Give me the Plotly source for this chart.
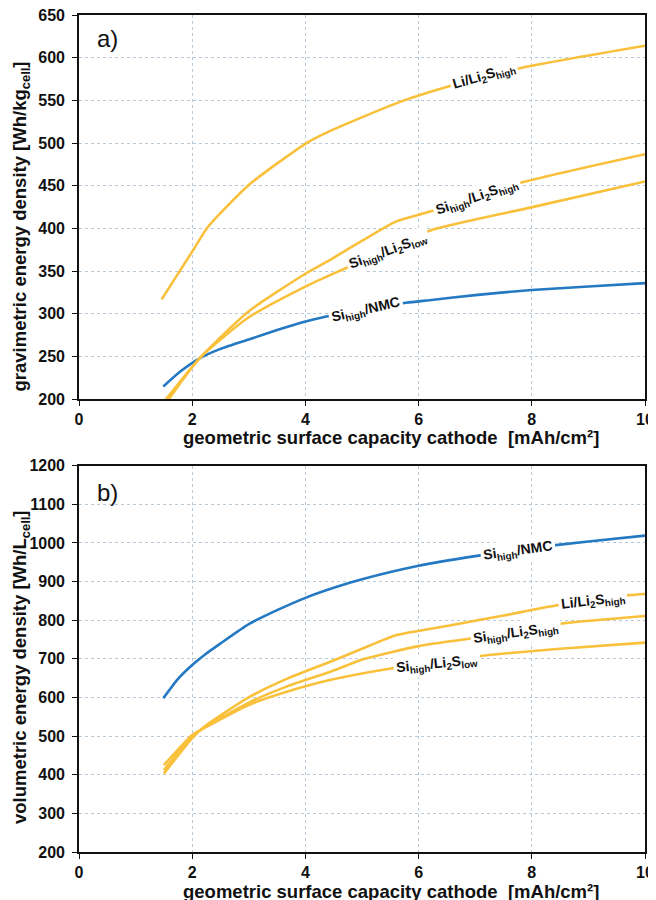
import plotly.graph_objects as go

# ---------------- data ----------------
x_ticks = [0, 2, 4, 6, 8, 10]

# a) gravimetric energy density [Wh/kg_cell]
grav_li_x = [1.46, 2.02, 2.28, 3.02, 4.02, 4.43, 5.66, 6.51, 7.81, 10.0]
grav_li_y = [317, 375, 402, 452, 500, 514, 548, 566, 588, 614]

grav_sih_x = [1.5, 2.13, 3.0, 4.0, 4.43, 5.01, 5.6, 6.19, 7.87, 10.0]
grav_sih_y = [197, 248, 303, 347, 363, 386, 408, 419.5, 454.6, 487]

grav_sil_x = [1.5, 2.13, 3.0, 4.0, 4.66, 5.44, 6.22, 8.01, 10.0]
grav_sil_y = [192, 248, 296, 332, 352, 375, 398, 425, 455]

grav_nmc_x = [1.49, 1.8, 2.13, 2.5, 3.0, 3.5, 4.0, 4.37, 5.0, 5.78, 6.19, 7.0, 8.0, 9.0, 10.0]
grav_nmc_y = [215, 233, 248, 259, 270, 281, 291, 297, 305, 313, 316, 322, 328, 332, 336]

# b) volumetric energy density [Wh/L_cell]
vol_nmc_x = [1.49, 1.75, 2.0, 2.25, 2.5, 3.0, 3.5, 4.0, 4.5, 5.0, 6.0, 7.0, 8.0, 9.0, 10.0]
vol_nmc_y = [598, 648, 684, 714, 740, 790, 826, 858, 884, 906, 941, 966, 987, 1004, 1019]

vol_li_x = [1.5, 2.0, 2.2, 3.02, 3.7, 4.43, 5.0, 5.6, 6.5, 7.5, 8.42, 9.72, 10.0]
vol_li_y = [403, 495, 523, 602, 650, 692, 726, 761, 785, 812, 838, 865, 868]

vol_sih_x = [1.5, 2.0, 2.2, 3.02, 3.7, 4.43, 5.05, 6.0, 6.88, 8.57, 10.0]
vol_sih_y = [412, 500, 521, 588, 630, 666, 700, 733, 752, 792, 811]

vol_sil_x = [1.5, 2.0, 2.2, 3.02, 3.7, 4.43, 5.51, 7.13, 8.5, 10.0]
vol_sil_y = [425, 503, 520, 582, 616, 645, 675, 708, 726, 742]

# curve labels: (text, x, y, angle, panel)
lbl_li = "Li/Li<sub>2</sub>S<sub>high</sub>"
lbl_sih = "Si<sub>high</sub>/Li<sub>2</sub>S<sub>high</sub>"
lbl_sil = "Si<sub>high</sub>/Li<sub>2</sub>S<sub>low</sub>"
lbl_nmc = "Si<sub>high</sub>/NMC"
curve_labels = [
    (lbl_li, 7.16, 578, -16, 1),
    (lbl_sih, 7.03, 437, -19, 1),
    (lbl_sil, 5.46, 374, -20, 1),
    (lbl_nmc, 5.07, 304, -13, 1),
    (lbl_nmc, 7.76, 979, -8, 2),
    (lbl_li, 9.08, 849, -7, 2),
    (lbl_sih, 7.72, 766, -8, 2),
    (lbl_sil, 6.33, 687, -6, 2),
]

# ---------------- figure ----------------
YEL = "#F9C03B"
BLU = "#2479C2"
FONT = "Liberation Sans, Arial, sans-serif"

fig = go.Figure()

def add_line(x, y, color, panel):
    fig.add_trace(go.Scatter(
        x=x, y=y, mode="lines",
        line=dict(color=color, width=2.6, shape="spline", smoothing=0.6),
        xaxis="x" if panel == 1 else "x2",
        yaxis="y" if panel == 1 else "y2",
        showlegend=False, hoverinfo="skip"))

add_line(grav_nmc_x, grav_nmc_y, BLU, 1)
add_line(grav_li_x, grav_li_y, YEL, 1)
add_line(grav_sih_x, grav_sih_y, YEL, 1)
add_line(grav_sil_x, grav_sil_y, YEL, 1)

add_line(vol_nmc_x, vol_nmc_y, BLU, 2)
add_line(vol_li_x, vol_li_y, YEL, 2)
add_line(vol_sih_x, vol_sih_y, YEL, 2)
add_line(vol_sil_x, vol_sil_y, YEL, 2)

axis_common = dict(
    showline=True, linecolor="#111111", linewidth=1.6, mirror=True,
    showgrid=True, gridcolor="#b9c9d8", griddash="dot", gridwidth=1,
    ticks="outside", ticklen=5, tickcolor="#111111", tickwidth=1.2,
    tickfont=dict(family=FONT, size=16, color="#111111", weight="bold"),
    zeroline=False, automargin=False, ticklabeloverflow="allow",
)

top_dom = [0.5409, 1.0]
bot_dom = [0.0, 0.4615]

# the page body adds an 8 px offset, so the figure is 8 px smaller
fig.update_layout(
    width=648, height=892,
    margin=dict(l=71, r=11, t=7, b=48),
    paper_bgcolor="white", plot_bgcolor="white",
    xaxis=dict(domain=[0, 1], anchor="y", range=[0, 10], tickvals=x_ticks, **axis_common),
    yaxis=dict(domain=top_dom, anchor="x", range=[200, 650], dtick=50,
               ticklabelstandoff=4, **axis_common),
    xaxis2=dict(domain=[0, 1], anchor="y2", range=[0, 10], tickvals=x_ticks, **axis_common),
    yaxis2=dict(domain=bot_dom, anchor="x2", range=[200, 1200], dtick=100,
                ticklabelstandoff=4, **axis_common),
)

annots = []
for text, x, y, ang, panel in curve_labels:
    annots.append(dict(
        text="<b>" + text + "</b>", x=x, y=y,
        xref="x" if panel == 1 else "x2", yref="y" if panel == 1 else "y2",
        showarrow=False, textangle=ang, bgcolor="white", borderpad=2,
        font=dict(family=FONT, size=14, color="#111111")))

# panel letters
annots.append(dict(text="a)", x=0.028, y=0.94, xref="x domain", yref="y domain",
                   xanchor="left", yanchor="middle", showarrow=False,
                   font=dict(family=FONT, size=24, color="#111111")))
annots.append(dict(text="b)", x=0.028, y=0.93, xref="x2 domain", yref="y2 domain",
                   xanchor="left", yanchor="middle", showarrow=False,
                   font=dict(family=FONT, size=24, color="#111111")))

xtitle = "<b>geometric surface capacity cathode  [mAh/cm²]</b>"
annots.append(dict(text=xtitle, x=0.551, y=0.4958, xref="paper", yref="paper",
                   showarrow=False, xanchor="center", yanchor="middle",
                   font=dict(family=FONT, size=18.5, color="#111111")))
annots.append(dict(text=xtitle, x=0.551, y=-0.0466, xref="paper", yref="paper",
                   showarrow=False, xanchor="center", yanchor="middle",
                   font=dict(family=FONT, size=18.5, color="#111111")))
annots.append(dict(text="<b>gravimetric energy density [Wh/kg<sub>cell</sub>]</b>",
                   x=-0.1025, y=0.7473, xref="paper", yref="paper", textangle=-90,
                   showarrow=False, xanchor="center", yanchor="middle",
                   font=dict(family=FONT, size=18.5, color="#111111")))
annots.append(dict(text="<b>volumetric energy density [Wh/L<sub>cell</sub>]</b>",
                   x=-0.1025, y=0.221, xref="paper", yref="paper", textangle=-90,
                   showarrow=False, xanchor="center", yanchor="middle",
                   font=dict(family=FONT, size=18.5, color="#111111")))

fig.update_layout(annotations=annots)
fig.write_html("out.html", post_script="document.body.style.overflow='hidden';")
